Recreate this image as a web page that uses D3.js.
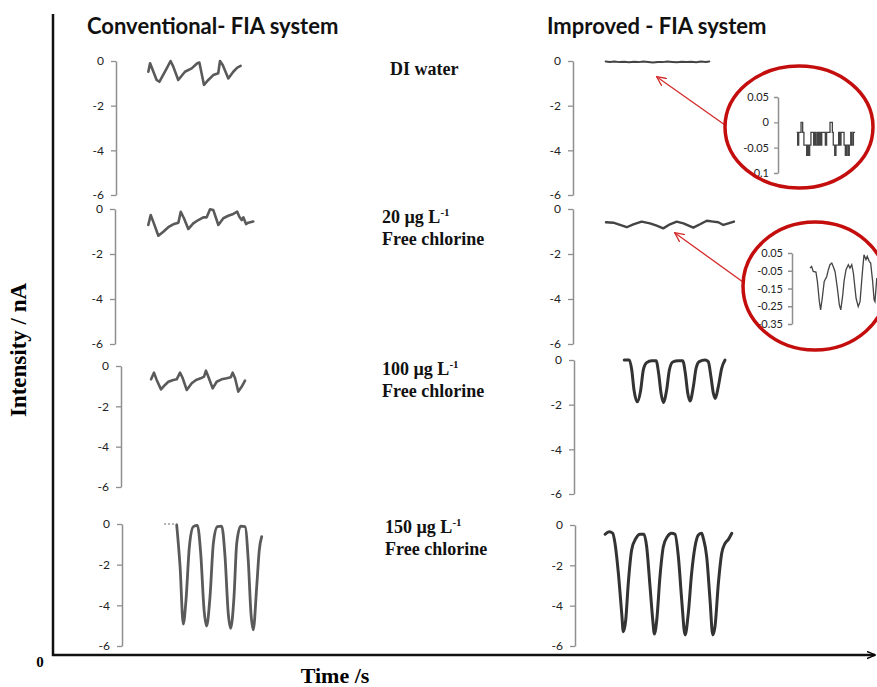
<!DOCTYPE html>
<html>
<head>
<meta charset="utf-8">
<script src="https://cdn.jsdelivr.net/npm/d3@7"></script>
<style>
body { margin: 0; background: #fff; }
svg { display: block; }
</style>
</head>
<body>
<svg id="chart" width="877" height="687"></svg>
<script>
// y tick values
var mainTicks = [0, -2, -4, -6];
var zoomDiTicks = [0.05, 0, -0.05, -0.1];
var zoom20Ticks = [0.05, -0.05, -0.15, -0.25, -0.35];

var columnTitles = ['Conventional- FIA system', 'Improved - FIA system'];
var concentrations = ['20', '100', '150'];

// traces as [time (s), intensity (nA)]
var convDI = [[20.2,-0.48],[21.3,-0.10],[25.4,-0.85],[27.1,-0.93],[31.7,-0.33],[34.1,0],[35.8,-0.25],[38.9,-0.85],[43.1,-0.48],[47.3,-0.33],[50.8,-0.10],[52.1,-0.07],[55,-1.07],[57.7,-0.85],[60.8,-0.63],[63.9,-0.55],[65,0],[66.7,-0.18],[70.2,-0.78],[73.3,-0.48],[75.8,-0.30],[77.9,-0.22]];
var conv20 = [[20.8,-0.71],[22.3,-0.27],[23.9,-0.56],[27.1,-1.19],[30.2,-1.01],[33.3,-0.81],[36.4,-0.68],[39.6,-0.61],[41.1,-0.12],[43.1,-0.41],[45.8,-0.89],[48.9,-0.64],[52.1,-0.49],[55.2,-0.37],[57.3,-0.37],[59.4,-0.01],[61.4,-0.04],[64.6,-0.71],[67.7,-0.41],[70.8,-0.30],[73.9,-0.22],[76.4,-0.12],[77.7,-0.34],[79.2,-0.49],[80.2,-0.37],[81.9,-0.67],[83.3,-0.61],[86.4,-0.56]];
var conv100 = [[18.8,-0.66],[20.6,-0.33],[22.3,-0.69],[25,-1.16],[27.5,-0.94],[29.6,-0.78],[32.7,-0.69],[34.8,-0.66],[36.9,-0.33],[38.6,-0.61],[41.1,-1.19],[44.2,-0.86],[46.9,-0.69],[49.8,-0.61],[51.9,-0.53],[53.1,-0.23],[54.6,-0.53],[57.3,-1.11],[59.8,-0.78],[62.9,-0.66],[66.1,-0.61],[68.6,-0.56],[69.8,-0.33],[71.3,-0.61],[73.3,-1.27],[75.4,-1.03],[77.5,-0.73]];
var conv150Lead = [[26.3,0],[34.2,0]];
var conv150 = [[34.2,-0.05],[36.3,-2.1],[38.3,-4.92],[40,-3.74],[42.1,-1.12],[44.6,-0.13],[47.1,-0.07],[49.2,-1.44],[51.3,-4.23],[52.9,-5.02],[55,-3.58],[57.1,-0.95],[59.6,-0.13],[62.3,-0.10],[64.4,-1.61],[66.4,-4.39],[67.9,-5.13],[70,-3.58],[71.7,-0.95],[74.2,-0.10],[76.9,-0.13],[78.9,-1.77],[80.6,-4.39],[82,-5.21],[84.2,-3.08],[85.8,-1.28],[87.3,-0.62]];

var impDI = [[20.4,-0.02],[23,-0.04],[26,-0.02],[29,-0.05],[32,-0.03],[35,-0.06],[38,-0.03],[41,-0.05],[44,-0.02],[47,-0.04],[50,-0.07],[53,-0.04],[56,-0.05],[59,-0.02],[62,-0.04],[65,-0.06],[68,-0.03],[71,-0.05],[74,-0.03],[77,-0.06],[80,-0.02],[83,-0.04],[85.2,-0.02]];
var imp20 = [[20.6,-0.59],[25.2,-0.61],[29.4,-0.71],[33.6,-0.81],[37.7,-0.68],[42.9,-0.56],[48.1,-0.64],[52.3,-0.74],[56.4,-0.86],[60.6,-0.68],[64.8,-0.56],[69,-0.64],[75.2,-0.83],[79.4,-0.68],[83.6,-0.52],[87.7,-0.56],[90.8,-0.59],[94,-0.71],[97.1,-0.64],[100.6,-0.56]];
var imp100 = [[31.4,0],[34.6,0],[36.1,-0.45],[37.5,-1.34],[39.6,-1.87],[41.7,-1.34],[43.3,-0.45],[45.4,-0.12],[48.6,-0.03],[51.3,-0.03],[52.9,-0.60],[54.4,-1.49],[55.8,-1.90],[57.9,-1.34],[59.6,-0.45],[61.7,-0.09],[65.2,-0.03],[67.9,-0.03],[69.6,-0.60],[71.1,-1.49],[72.5,-1.84],[74.6,-1.19],[76.3,-0.37],[78.3,-0.07],[81.9,0],[83.9,-0.07],[85.6,-0.75],[87.1,-1.49],[88.3,-1.72],[90.2,-1.19],[92.3,-0.37],[94.4,0]];
var imp150 = [[18.8,-0.46],[21.4,-0.33],[23.6,-0.41],[25,-0.91],[27.1,-2.39],[29.2,-4.38],[30.2,-5.29],[31.7,-4.71],[33.3,-2.89],[35.4,-1.24],[38.1,-0.66],[40.6,-0.46],[43.1,-0.46],[44.8,-1.08],[46.9,-3.06],[48.6,-4.71],[49.6,-5.40],[51.1,-4.71],[53.1,-2.56],[55.2,-1.08],[57.7,-0.58],[60.4,-0.41],[62.5,-0.46],[64.6,-1.57],[66.7,-3.72],[68.8,-5.45],[70.8,-4.38],[72.9,-2.39],[75,-1.08],[77.1,-0.50],[79.2,-0.41],[80.2,-0.66],[82.3,-1.57],[84.4,-3.72],[86.1,-5.45],[87.5,-5.04],[89.6,-2.89],[91.7,-1.40],[93.8,-0.91],[95.9,-0.71],[98,-0.41]];

// zoomed views (insets)
var zoomDI = [[10.4,-0.02],[10.9,-0.045],[11.5,-0.02],[12.2,-0.02],[12.8,0],[13.7,-0.02],[14.4,-0.045],[15.2,-0.045],[15.9,-0.065],[16.5,-0.045],[17,-0.065],[17.6,-0.045],[18.3,-0.02],[19.3,-0.02],[19.8,-0.045],[20.4,-0.02],[21.1,-0.045],[21.9,-0.02],[22.4,-0.045],[23,-0.02],[23.7,-0.045],[24.3,-0.02],[24.8,-0.02],[25.6,-0.02],[26.3,-0.045],[27,-0.02],[28.1,-0.02],[28.9,0],[29.6,0],[30.2,-0.02],[30.7,-0.045],[31.5,-0.065],[32.2,-0.045],[33,-0.045],[33.7,-0.02],[34.4,-0.045],[35,-0.02],[35.9,-0.02],[36.7,-0.045],[37.4,-0.065],[38.1,-0.045],[38.9,-0.065],[39.6,-0.045],[40.4,-0.02],[41.1,-0.045],[41.9,-0.02],[42.8,-0.02]];
var zoom20 = [[10,-0.035],[10.9,-0.026],[11.8,-0.054],[13.3,-0.057],[14.1,-0.11],[15.2,-0.224],[15.9,-0.27],[16.8,-0.205],[17.9,-0.11],[19.3,-0.082],[20.2,-0.044],[21.1,-0.016],[22.1,-0.007],[22.9,-0.026],[23.9,-0.054],[25.2,-0.148],[26.3,-0.242],[27.1,-0.27],[28.2,-0.186],[28.9,-0.11],[30,-0.044],[31.3,-0.016],[32.2,-0.035],[33.2,-0.016],[34.1,-0.063],[35.6,-0.205],[36.8,-0.252],[37.8,-0.224],[38.7,-0.11],[39.3,-0.035],[40,0.04],[41.1,0.012],[41.8,0.031],[42.9,0.003],[43.7,-0.007],[44.8,-0.11],[45.6,-0.214],[46.1,-0.224],[47.1,-0.091]];

var svg = d3.select('#chart');
var serif = "'Liberation Serif', 'Times New Roman', serif";
var sans = "Lato, 'Noto Sans', sans-serif";

var defs = svg.append('defs');
defs.append('marker')
    .attr('id', 'arrowRed')
    .attr('viewBox', '0 0 10 10')
    .attr('refX', 9).attr('refY', 5)
    .attr('markerWidth', 10).attr('markerHeight', 10)
    .attr('markerUnits', 'userSpaceOnUse')
    .attr('orient', 'auto')
    .append('path')
    .attr('d', 'M0,0.5 L9.5,5 L0,9.5')
    .attr('fill', 'none').attr('stroke', '#d42a2a').attr('stroke-width', 1.3);
defs.append('marker')
    .attr('id', 'arrowBlack')
    .attr('viewBox', '0 0 10 10')
    .attr('refX', 9).attr('refY', 5)
    .attr('markerWidth', 9).attr('markerHeight', 9)
    .attr('markerUnits', 'userSpaceOnUse')
    .attr('orient', 'auto')
    .append('path')
    .attr('d', 'M0,1 L9.5,5 L0,9')
    .attr('fill', 'none').attr('stroke', '#000').attr('stroke-width', 1.5);

// outer frame
svg.append('line')
    .attr('x1', 53).attr('x2', 53).attr('y1', 14).attr('y2', 656)
    .attr('stroke', '#111').attr('stroke-width', 2.5);
svg.append('line')
    .attr('x1', 52).attr('x2', 875).attr('y1', 655).attr('y2', 655)
    .attr('stroke', '#111').attr('stroke-width', 2.5)
    .attr('marker-end', 'url(#arrowBlack)');

svg.append('text')
    .attr('x', 40).attr('y', 667)
    .attr('text-anchor', 'middle')
    .style('font-family', serif).style('font-weight', 'bold').style('font-size', '15px')
    .text('0');
svg.append('text')
    .attr('x', 335).attr('y', 683)
    .attr('text-anchor', 'middle')
    .style('font-family', serif).style('font-weight', 'bold').style('font-size', '22px')
    .text('Time /s');
svg.append('text')
    .attr('transform', 'translate(26,350) rotate(-90)')
    .attr('text-anchor', 'middle')
    .style('font-family', serif).style('font-weight', 'bold').style('font-size', '23px')
    .text('Intensity / nA');

// column titles
svg.selectAll('.col-title')
    .data(columnTitles)
    .enter()
    .append('text')
    .attr('class', 'col-title')
    .attr('x', (d, i) => i === 0 ? 87 : 547)
    .attr('y', 34)
    .style('font-family', sans).style('font-weight', 'bold').style('font-size', '22px')
    .attr('fill', '#111')
    .text(d => d);

// time scale shared by every panel (relative to its axis)
var tScale = d3.scaleLinear().domain([0, 100]).range([0, 160]);

var panels = [
    { data: convDI, ax: 116, top: 61, bottom: 195, color: '#5a5a5a', width: 2.6, curve: d3.curveLinear },
    { data: conv20, ax: 115, top: 209, bottom: 344, color: '#5a5a5a', width: 2.6, curve: d3.curveLinear },
    { data: conv100, ax: 121, top: 366, bottom: 487, color: '#5a5a5a', width: 2.6, curve: d3.curveLinear },
    { data: conv150, ax: 122, top: 524, bottom: 646, color: '#5a5a5a', width: 2.8, curve: d3.curveMonotoneX, lead: conv150Lead },
    { data: impDI, ax: 573, top: 61, bottom: 195, color: '#444', width: 2, curve: d3.curveLinear },
    { data: imp20, ax: 573, top: 209, bottom: 344, color: '#444', width: 2.4, curve: d3.curveLinear },
    { data: imp100, ax: 574, top: 360, bottom: 494, color: '#333', width: 3, curve: d3.curveMonotoneX },
    { data: imp150, ax: 575, top: 525, bottom: 646, color: '#333', width: 3, curve: d3.curveMonotoneX }
];

function styleAxis(g, fontSize) {
    g.select('.domain').attr('stroke', '#8f8f8f').attr('stroke-width', 1.5);
    g.selectAll('.tick line').attr('stroke', '#8f8f8f').attr('stroke-width', 1.3);
    g.selectAll('.tick text')
        .attr('fill', '#222')
        .style('font-family', sans)
        .style('font-size', fontSize + 'px');
}

panels.forEach(function(p) {
    var y = d3.scaleLinear().domain([0, -6]).range([p.top, p.bottom]);
    var g = svg.append('g').attr('transform', `translate(${p.ax},0)`);
    g.append('g')
        .call(d3.axisLeft(y).tickValues(mainTicks).tickSize(5).tickSizeOuter(0).tickPadding(7)
            .tickFormat(d => String(d)))
        .call(styleAxis, 12);

    var line = d3.line()
        .x(d => tScale(d[0]))
        .y(d => y(d[1]))
        .curve(p.curve);

    if (p.lead) {
        g.append('path')
            .attr('d', line(p.lead))
            .attr('fill', 'none')
            .attr('stroke', '#9a9a9a')
            .attr('stroke-width', 1.6)
            .attr('stroke-dasharray', '2,2');
    }
    g.append('path')
        .attr('d', line(p.data))
        .attr('fill', 'none')
        .attr('stroke', p.color)
        .attr('stroke-width', p.width)
        .attr('stroke-linejoin', 'round')
        .attr('stroke-linecap', 'round');
});

// sample labels
function bold(sel, size) {
    return sel.style('font-family', serif).style('font-weight', 'bold').style('font-size', size + 'px').attr('fill', '#111');
}
bold(svg.append('text').attr('x', 390).attr('y', 75), 18).text('DI water');

var labelPos = [{ x: 382, y: 223 }, { x: 382, y: 375 }, { x: 385, y: 533 }];
concentrations.forEach(function(c, i) {
    var t = bold(svg.append('text').attr('x', labelPos[i].x).attr('y', labelPos[i].y), 18);
    t.append('tspan').text(c + ' µg L');
    t.append('tspan').attr('dy', -7).style('font-size', '11px').text('-1');
    bold(svg.append('text').attr('x', labelPos[i].x).attr('y', labelPos[i].y + 22), 18).text('Free chlorine');
});

// zoom insets
var zScale = d3.scaleLinear().domain([0, 50]).range([0, 90]);
var insets = [
    { data: zoomDI, ticks: zoomDiTicks, ax: 778, dom: [0.05, -0.1], range: [97, 173],
      cx: 799, cy: 127, rx: 74, ry: 61, curve: d3.curveStepAfter, tail: [725, 125], tip: [657, 77] },
    { data: zoom20, ticks: zoom20Ticks, ax: 792, dom: [0.05, -0.35], range: [253, 324],
      cx: 815, cy: 286, rx: 72, ry: 64, curve: d3.curveLinear, tail: [743, 282], tip: [675, 233] }
];

insets.forEach(function(z, i) {
    svg.append('line')
        .attr('x1', z.tail[0]).attr('y1', z.tail[1])
        .attr('x2', z.tip[0]).attr('y2', z.tip[1])
        .attr('stroke', '#d42a2a').attr('stroke-width', 1.3)
        .attr('marker-end', 'url(#arrowRed)');

    defs.append('clipPath').attr('id', 'clip' + i)
        .append('ellipse')
        .attr('cx', z.cx).attr('cy', z.cy).attr('rx', z.rx).attr('ry', z.ry);

    var g = svg.append('g').attr('clip-path', `url(#clip${i})`);
    g.append('ellipse')
        .attr('cx', z.cx).attr('cy', z.cy).attr('rx', z.rx).attr('ry', z.ry)
        .attr('fill', '#fff');

    var y = d3.scaleLinear().domain(z.dom).range(z.range);
    var inner = g.append('g').attr('transform', `translate(${z.ax},0)`);
    inner.append('g')
        .call(d3.axisLeft(y).tickValues(z.ticks).tickSize(4).tickSizeOuter(0).tickPadding(5)
            .tickFormat(d => String(d)))
        .call(styleAxis, 11);
    inner.append('path')
        .attr('d', d3.line().x(d => zScale(d[0])).y(d => y(d[1])).curve(z.curve)(z.data))
        .attr('fill', 'none')
        .attr('stroke', '#444')
        .attr('stroke-width', 1.3);

    svg.append('ellipse')
        .attr('cx', z.cx).attr('cy', z.cy).attr('rx', z.rx).attr('ry', z.ry)
        .attr('fill', 'none')
        .attr('stroke', '#c40d0d')
        .attr('stroke-width', 3.5);
});
</script>
</body>
</html>
